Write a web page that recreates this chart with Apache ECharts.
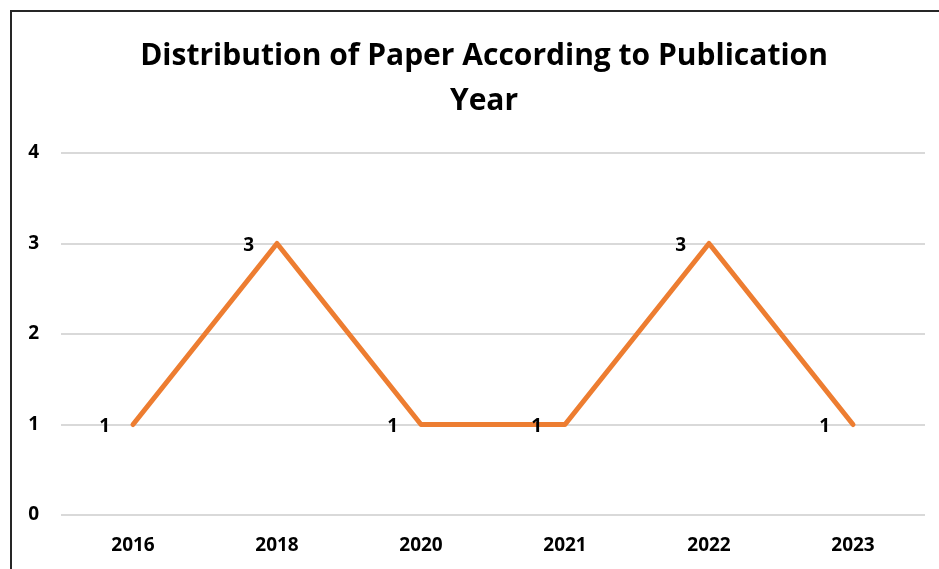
<!DOCTYPE html>
<html>
<head>
<meta charset="utf-8">
<script src="https://cdn.jsdelivr.net/npm/echarts@6/dist/echarts.min.js"></script>
<style>
html,body{margin:0;padding:0;background:#fff;}
#main{width:939px;height:569px;}
</style>
</head>
<body>
<div id="main"></div>
<script>
const titleText = 'Distribution of Paper According to Publication\nYear';
const years = ['2016', '2018', '2020', '2021', '2022', '2023'];
const papers = [1, 3, 1, 1, 3, 1];
const yTicks = { min: 0, max: 4, interval: 1 };

const chart = echarts.init(document.getElementById('main'));
chart.setOption({
  backgroundColor: '#fff',
  animation: false,
  graphic: [{
    type: 'rect',
    shape: { x: 11, y: 11, width: 940, height: 600 },
    style: { fill: 'none', stroke: '#262626', lineWidth: 2 },
    silent: true
  }],
  title: {
    text: titleText,
    left: 479,
    textAlign: 'center',
    top: 29,
    textStyle: {
      fontFamily: 'Open Sans',
      fontWeight: 'bold',
      fontSize: 30,
      lineHeight: 45,
      color: '#000'
    }
  },
  grid: { left: 61, right: 14, top: 153, bottom: 54, containLabel: false },
  xAxis: {
    type: 'category',
    data: years,
    boundaryGap: true,
    axisLine: { show: false },
    axisTick: { show: false },
    axisLabel: {
      margin: 21,
      fontFamily: 'Open Sans',
      fontWeight: 'bold',
      fontSize: 19,
      color: '#000'
    }
  },
  yAxis: {
    type: 'value',
    min: yTicks.min,
    max: yTicks.max,
    interval: yTicks.interval,
    axisLine: { show: false },
    axisTick: { show: false },
    splitLine: { lineStyle: { color: '#d9d9d9', width: 2 } },
    axisLabel: {
      margin: 22,
      fontFamily: 'Open Sans',
      fontWeight: 'bold',
      fontSize: 19,
      color: '#000'
    }
  },
  series: [{
    type: 'line',
    data: papers,
    symbol: 'circle',
    symbolSize: 2,
    showSymbol: true,
    lineStyle: { color: '#ED7D31', width: 5, cap: 'round', join: 'round' },
    itemStyle: { color: 'rgba(237,125,49,0)', borderWidth: 0 },
    label: {
      show: true,
      position: 'left',
      distance: 22,
      offset: [0, 2],
      fontFamily: 'Open Sans',
      fontWeight: 'bold',
      fontSize: 19,
      color: '#000',
      opacity: 1
    }
  }]
});
</script>
</body>
</html>
